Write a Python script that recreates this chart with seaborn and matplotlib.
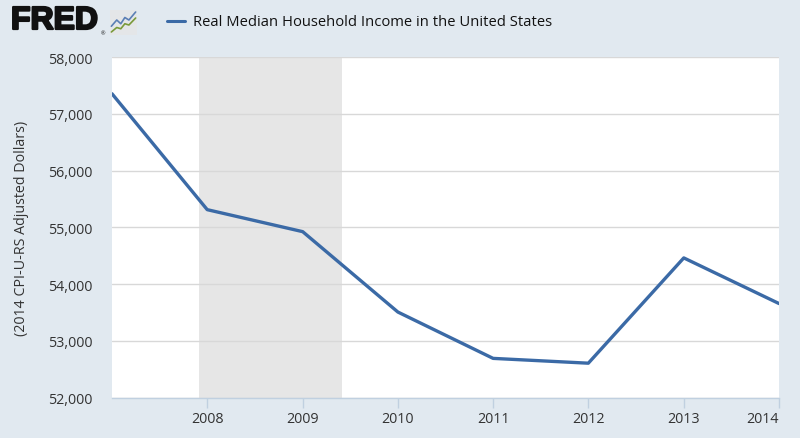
import matplotlib
matplotlib.use("Agg")
import matplotlib.pyplot as plt
import matplotlib.dates as mdates
import matplotlib.patheffects as pe
import seaborn as sns
import pandas as pd
import numpy as np

# ---- data ----
years = [2007, 2008, 2009, 2010, 2011, 2012, 2013, 2014]
income = [57357, 55313, 54925, 53507, 52690, 52605, 54462, 53657]
series_name = "Real Median Household Income in the United States"
y_label = "(2014 CPI-U-RS Adjusted Dollars)"
recession_start = "2007-12-01"
recession_end = "2009-06-01"
tick_years = [2008, 2009, 2010, 2011, 2012, 2013, 2014]

df = pd.DataFrame({"date": pd.to_datetime([f"{y}-01-01" for y in years]),
                   "income": income})

sns.set_theme(style="white")
plt.rcParams['font.family'] = ['Open Sans', 'DejaVu Sans']

BG = "#e1e9f0"
LINE = "#3b6aa6"
TXT = "#333333"

fig = plt.figure(figsize=(8, 4.39), dpi=100, facecolor=BG)
ax = fig.add_axes([112/800, 1-398.5/439, (779-112)/800, (398.5-58.3)/439])
ax.set_facecolor("white")

ax.axvspan(pd.Timestamp(recession_start), pd.Timestamp(recession_end),
           color="#e6e6e6", zorder=0, lw=0)

sns.lineplot(data=df, x="date", y="income", ax=ax, color=LINE, lw=2.4,
             zorder=3, legend=False)

ax.set_xlim(pd.Timestamp("2007-01-01"), pd.Timestamp("2014-01-01"))
ax.set_ylim(52000, 58000)
ax.set_yticks(np.arange(52000, 58001, 1000))
ax.yaxis.set_major_formatter(matplotlib.ticker.FuncFormatter(lambda v, p: f"{int(v):,}"))
ax.set_xticks(pd.to_datetime([f"{y}-01-01" for y in tick_years]))
ax.xaxis.set_major_formatter(mdates.DateFormatter("%Y"))

ax.grid(axis="y", color="#d8d8d8", lw=1)
ax.set_axisbelow(True)
for s in ["left", "right", "top"]:
    ax.spines[s].set_visible(False)
ax.spines["bottom"].set_color("#c0d0e0")
ax.spines["bottom"].set_linewidth(1)

ax.tick_params(axis="x", which="major", length=7, width=1, color="#c0d0e0",
               labelsize=10.3, labelcolor=TXT, pad=3, direction="out", bottom=True)
ax.tick_params(axis="y", length=0, labelsize=10.3, labelcolor=TXT, pad=14)
ax.set_xlabel("")
ax.set_ylabel(y_label, fontsize=10.3, color=TXT, labelpad=14)
xlabels = ax.get_xticklabels()
xlabels[-1].set_horizontalalignment("right")
xlabels[-1].set_x(0)

# header
fig.text(11/800, 1-22/439, "FRED", fontsize=23, fontweight="bold", color="#111111",
         family=["Liberation Sans", "DejaVu Sans"], va="center", ha="left",
         path_effects=[pe.withStroke(linewidth=1.6, foreground="#111111")])
fig.text(101/800, 1-34/439, "®", fontsize=4, color="#111111", va="center", ha="left")
# icon
icon = fig.add_axes([110/800, 1-36/439, 27/800, 25/439])
icon.set_facecolor("#e4e6e8")
icon.set_xticks([]); icon.set_yticks([])
for s in icon.spines.values():
    s.set_visible(False)
ix = [0.05, 0.25, 0.4, 0.55, 0.7, 0.95]
icon.plot(ix, [0.35, 0.6, 0.45, 0.7, 0.6, 0.92], color="#5b7fb5", lw=1.2)
icon.plot(ix, [0.12, 0.3, 0.25, 0.45, 0.4, 0.68], color="#7a9a3a", lw=1.2)
icon.set_xlim(0, 1); icon.set_ylim(0, 1)

fig.add_artist(matplotlib.lines.Line2D([167/800, 185/800], [1-22/439, 1-22/439],
                                       color=LINE, lw=2.2))
fig.text(193/800, 1-22/439, series_name, fontsize=10.6, color="#111111",
         va="center", ha="left")

fig.savefig("out.png", dpi=100, facecolor=BG)
